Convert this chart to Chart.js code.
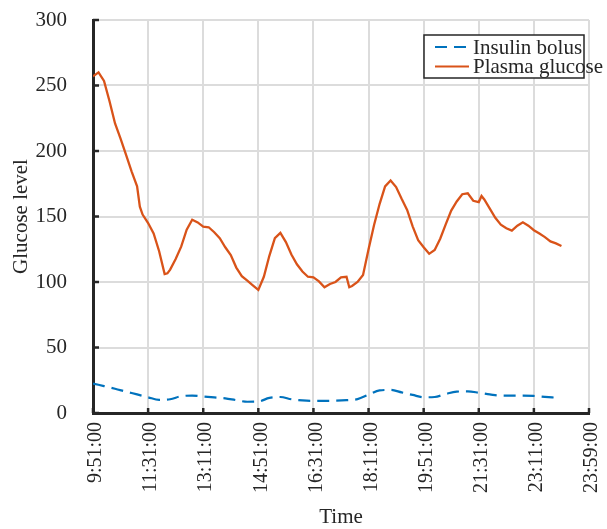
<!DOCTYPE html>
<html>
<head>
<meta charset="utf-8">
<script src="https://cdn.jsdelivr.net/npm/chart.js@4.4.1/dist/chart.umd.min.js"></script>
<style>
  html, body { margin: 0; padding: 0; background: #ffffff; }
  #wrap { width: 607px; height: 529px; }
</style>
</head>
<body>
<div id="wrap"><canvas id="chart" width="607" height="529"></canvas></div>
<script>
// Sample positions (5-minute sample index) and readings
const timeTickLabels = ['9:51:00', '11:31:00', '13:11:00', '14:51:00', '16:31:00',
  '18:11:00', '19:51:00', '21:31:00', '23:11:00', '23:59:00'];
const tickSpacing = 20; // samples between labelled ticks

const glucoseSample = [0, 2, 4, 6, 8, 10, 12, 14, 16, 17, 18, 20, 22, 24, 26, 27, 28, 30, 32, 34,
  36, 38, 40, 42, 44, 46, 48, 50, 52, 54, 56, 58, 60, 62, 64, 66, 68, 70, 72, 74,
  76, 78, 80, 82, 84, 86, 88, 90, 92, 93, 94, 96, 98, 100, 102, 104, 106, 108, 110, 112,
  114, 116, 118, 120, 122, 124, 126, 128, 130, 132, 134, 136, 138, 140, 141, 142, 144, 146, 148, 150,
  152, 154, 156, 158, 160, 162, 164, 166, 168, 170];
const plasmaGlucose = [257, 260, 253.5, 238, 221, 209.5, 197, 184.5, 173, 157.5, 151.5, 145, 137, 123.5, 106, 106.6, 109.5, 117.5, 127, 140,
  147.5, 145.5, 142.2, 141.8, 138, 133.5, 126.5, 120.5, 111, 104.5, 101, 97.5, 94, 104, 120, 133.5, 137.5, 130.5, 121, 113.5,
  108, 104, 103.5, 100.5, 96, 98.5, 100, 103.5, 104, 96, 97, 100, 105.3, 125, 143.5, 159.5, 173, 177.5, 172.5, 163.5,
  155, 142.5, 132, 126.5, 121.5, 124.4, 133, 144, 154.5, 161.5, 167, 167.7, 162, 161, 165.7, 163, 156, 149, 143.8, 141,
  139.2, 143, 145.6, 143, 139.5, 137, 134.3, 131, 129.5, 127.5];

const insulinSample = [0, 4, 8, 12, 16, 20, 24, 28, 32, 36, 40, 44, 48, 52, 56, 60, 64, 68, 72, 76,
  80, 84, 88, 92, 96, 100, 104, 108, 112, 116, 120, 124, 128, 132, 136, 140, 144, 148, 152, 156,
  160, 164, 168];
const insulinBolus = [22.5, 20.5, 18.5, 16.3, 14.2, 12, 10, 10.5, 12.8, 13.3, 12.6, 11.9, 11.2, 9.8, 8.6, 8.8, 11.5, 12.2, 10.5, 9.6,
  9.2, 9.3, 9.4, 9.8, 10.6, 14, 17.3, 17.6, 15.7, 13.8, 12, 12.2, 14.5, 16.3, 16.5, 15.5, 14.2, 13.2, 13.2, 13.2,
  13, 12.3, 11.7];

const seriesNames = ['Insulin bolus', 'Plasma glucose'];

const FONT = "'Liberation Serif', 'Times New Roman', serif";
const INK = '#262626';
const BLUE = '#0072BD';
const ORANGE = '#D95319';

const toPoints = (xs, ys) => xs.map((x, i) => ({ x: x, y: ys[i] }));

// Keep the plot box fixed: scales do not reserve extra room for overhanging labels
const noScalePadding = s => {
  s.paddingTop = 0; s.paddingBottom = 0; s.paddingLeft = 0; s.paddingRight = 0;
};

// MATLAB-style inward tick marks along the bottom and left axes
const inwardTicks = {
  id: 'inwardTicks',
  afterDatasetsDraw(chart) {
    const { ctx, chartArea, scales } = chart;
    ctx.save();
    ctx.strokeStyle = INK;
    ctx.lineWidth = 2.5;
    scales.x.ticks.forEach(t => {
      const px = scales.x.getPixelForValue(t.value);
      ctx.beginPath();
      ctx.moveTo(px, chartArea.bottom);
      ctx.lineTo(px, chartArea.bottom - 5);
      ctx.stroke();
    });
    scales.y.ticks.forEach(t => {
      const py = scales.y.getPixelForValue(t.value);
      ctx.beginPath();
      ctx.moveTo(chartArea.left, py);
      ctx.lineTo(chartArea.left + 6, py);
      ctx.stroke();
    });
    ctx.restore();
  }
};

// Boxed legend in the upper-right corner of the plot
const boxedLegend = {
  id: 'boxedLegend',
  afterDraw(chart) {
    const { ctx } = chart;
    const box = { x: 424, y: 35, w: 160, h: 43 };
    ctx.save();
    ctx.fillStyle = '#ffffff';
    ctx.fillRect(box.x, box.y, box.w, box.h);
    ctx.strokeStyle = INK;
    ctx.lineWidth = 1.5;
    ctx.strokeRect(box.x, box.y, box.w, box.h);
    const rows = [
      { ds: chart.data.datasets[0], lineY: 47, textY: 53.5 },
      { ds: chart.data.datasets[1], lineY: 66.5, textY: 72.5 }
    ];
    rows.forEach(r => {
      ctx.strokeStyle = r.ds.borderColor;
      ctx.lineWidth = 2.2;
      ctx.setLineDash(r.ds.borderDash || []);
      ctx.beginPath();
      ctx.moveTo(435, r.lineY);
      ctx.lineTo(r.ds.borderDash ? 466 : 469, r.lineY);
      ctx.stroke();
      ctx.setLineDash([]);
      ctx.fillStyle = INK;
      ctx.font = '21px ' + FONT;
      ctx.textBaseline = 'alphabetic';
      ctx.textAlign = 'left';
      ctx.fillText(r.ds.label, 473, r.textY);
    });
    ctx.restore();
  }
};

new Chart(document.getElementById('chart'), {
  type: 'line',
  data: {
    datasets: [
      {
        label: seriesNames[0],
        data: toPoints(insulinSample, insulinBolus),
        borderColor: BLUE,
        borderWidth: 2.2,
        borderDash: [12, 7],
        pointRadius: 0,
        cubicInterpolationMode: 'monotone',
        fill: false
      },
      {
        label: seriesNames[1],
        data: toPoints(glucoseSample, plasmaGlucose),
        borderColor: ORANGE,
        borderWidth: 2.3,
        pointRadius: 0,
        tension: 0,
        fill: false
      }
    ]
  },
  options: {
    responsive: false,
    animation: false,
    devicePixelRatio: 1,
    layout: { padding: { left: 0, right: 18, top: 20, bottom: 0 } },
    plugins: {
      legend: { display: false },
      title: { display: false },
      tooltip: { enabled: false }
    },
    scales: {
      x: {
        type: 'linear',
        min: 0,
        max: tickSpacing * (timeTickLabels.length - 1),
        afterFit: s => { s.height = 116; noScalePadding(s); },
        grid: { color: '#dcdcdc', lineWidth: 2, drawTicks: false },
        border: { display: true, color: INK, width: 3 },
        ticks: {
          stepSize: tickSpacing,
          autoSkip: false,
          minRotation: 90,
          maxRotation: 90,
          padding: 9,
          labelOffset: 3,
          color: INK,
          font: { family: FONT, size: 20 },
          callback: v => timeTickLabels[Math.round(v / tickSpacing)]
        },
        title: {
          display: true,
          text: 'Time',
          color: INK,
          font: { family: FONT, size: 21, lineHeight: 1.05 },
          padding: { top: 0, bottom: 0 }
        }
      },
      y: {
        min: 0,
        max: 300,
        afterFit: s => { s.width = 93; noScalePadding(s); },
        grid: { color: '#dcdcdc', lineWidth: 2, drawTicks: false },
        border: { display: true, color: INK, width: 3 },
        ticks: {
          stepSize: 50,
          padding: 26,
          color: INK,
          font: { family: FONT, size: 21 }
        },
        title: {
          display: true,
          text: 'Glucose level',
          color: INK,
          font: { family: FONT, size: 21 },
          padding: { top: 9, bottom: 0 }
        }
      }
    }
  },
  plugins: [inwardTicks, boxedLegend]
});
</script>
</body>
</html>
